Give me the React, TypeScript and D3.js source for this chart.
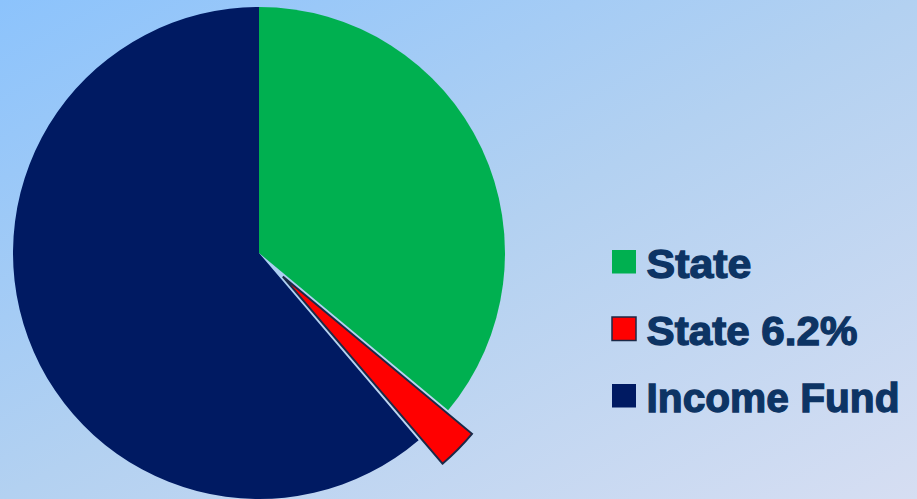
import React from "react";
import * as d3 from "d3";

const categories = ["State", "State 6.2%", "Income Fund"];
const values = [36.04, 2.72, 61.24];
const colors = ["#00b050", "#ff0000", "#001a62"];
const exploded = [false, true, false];

const W = 917;
const H = 499;

export default function App() {
  const cx = 259;
  const cy = 253;
  const r = 246;
  const pie = d3.pie<number>().sort(null).value((d) => d);
  const arcs = pie(values);
  const arcGen = d3.arc<d3.PieArcDatum<number>>().innerRadius(0).outerRadius(r);
  const explode = 33.5;

  return (
    <svg
      width={W}
      height={H}
      style={{ position: "fixed", left: 0, top: 0, display: "block" }}
    >
      <defs>
        <linearGradient id="bg" x1="0" y1="0" x2="1" y2="1">
          <stop offset="0" stopColor="#8cc3fc" />
          <stop offset="0.5" stopColor="#b3d1f1" />
          <stop offset="1" stopColor="#d6def2" />
        </linearGradient>
      </defs>
      <rect x={0} y={0} width={W} height={H} fill="url(#bg)" />
      <g transform={`translate(${cx},${cy})`}>
        {arcs.map((a, i) => {
          const mid = (a.startAngle + a.endAngle) / 2;
          const dx = exploded[i] ? Math.sin(mid) * explode : 0;
          const dy = exploded[i] ? -Math.cos(mid) * explode : 0;
          return (
            <path
              key={i}
              d={arcGen(a) || ""}
              transform={`translate(${dx},${dy})`}
              fill={colors[i]}
              stroke={exploded[i] ? "#1b2a48" : "none"}
              strokeWidth={exploded[i] ? 2 : 0}
              strokeLinejoin="miter"
            />
          );
        })}
      </g>
      <g>
        {categories.map((c, i) => {
          const y = 250 + i * 67;
          return (
            <g key={c}>
              <rect
                x={612}
                y={y}
                width={24}
                height={23.5}
                fill={colors[i]}
                stroke={exploded[i] ? "#1b2a48" : "none"}
                strokeWidth={exploded[i] ? 1.5 : 0}
              />
              <text
                x={646.5}
                y={y + 27.5}
                fill="#0d3464"
                stroke="#0d3464"
                strokeWidth={1.3}
                fontFamily="'Liberation Sans', Arial, sans-serif"
                fontWeight="bold"
                fontSize={41}
                textLength={i === 0 ? 105 : i === 1 ? 211 : 253}
                lengthAdjust="spacingAndGlyphs"
              >
                {c}
              </text>
            </g>
          );
        })}
      </g>
    </svg>
  );
}
